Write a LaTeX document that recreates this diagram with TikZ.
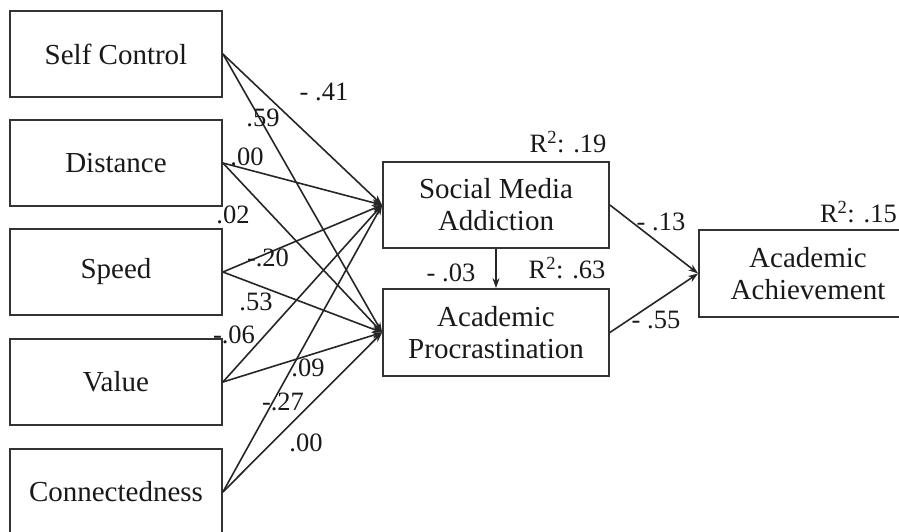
\documentclass[tikz,border=0pt]{standalone}
\usepackage{fontspec}
\setmainfont{Liberation Serif}
\usetikzlibrary{arrows.meta}
\begin{document}
\begin{tikzpicture}[x=1pt,y=-1pt,
 box/.style={draw=black!80, line width=1.8pt, fill=white, minimum width=212pt, minimum height=86pt, inner sep=0pt, align=center, font=\fontsize{29}{32}\selectfont, text=black!90},
 midbox/.style={box, minimum width=226pt},
 lbl/.style={font=\fontsize{26.5}{30}\selectfont, inner sep=0pt, text=black!90},
 conn/.style={draw=black!85, line width=1.6pt, -{Stealth[length=10pt,width=7pt]}}
]
\useasboundingbox (0,0) rectangle (899,532);
\node[box] (sc) at (116,54) {Self Control};
\node[box] (di) at (116,163) {Distance};
\node[box] (sp) at (116,272) {Speed};
\node[box] (va) at (116,382) {Value};
\node[box] (cn) at (116,492) {Connectedness};
\node[midbox] (sma) at (496,205) {Social Media\\Addiction};
\node[midbox, minimum height=87pt] (ap) at (496,332.5) {Academic\\Procrastination};
\node[box, minimum width=218pt, minimum height=87pt] (aa) at (808,273.5) {Academic\\Achievement};

\foreach \s in {sc,di,sp,va,cn}{
  \draw[conn] (\s.east) -- (sma.west);
  \draw[conn] (\s.east) -- (ap.west);
}
\draw[conn] (sma.east) -- (aa.west);
\draw[conn] (ap.east) -- (aa.west);
\draw[conn] (sma.south) -- (ap.north);

\node[lbl] (l1) at (324,92) {- .41};
\node[lbl] (l2) at (263,118) {.59};
\node[lbl] (l3) at (247,157) {.00};
\node[lbl] (l4) at (233,215) {.02};
\node[lbl] (l5) at (268,258) {-.20};
\node[lbl] (l6) at (256,302) {.53};
\node[lbl] (l7) at (234,335) {-.06};
\node[lbl] (l8) at (308,368) {.09};
\node[lbl] (l9) at (283,402) {-.27};
\node[lbl] (l10) at (306,443) {.00};
\node[lbl] (r1) at (568,142) {R\textsuperscript{2}: .19};
\node[lbl] (l11) at (451,273) {- .03};
\node[lbl] (r2) at (567,268) {R\textsuperscript{2}: .63};
\node[lbl] (l12) at (661,222) {- .13};
\node[lbl] (l13) at (656,320) {- .55};
\node[lbl, anchor=east] (r3) at (897,212) {R\textsuperscript{2}: .15};
\end{tikzpicture}
\end{document}
